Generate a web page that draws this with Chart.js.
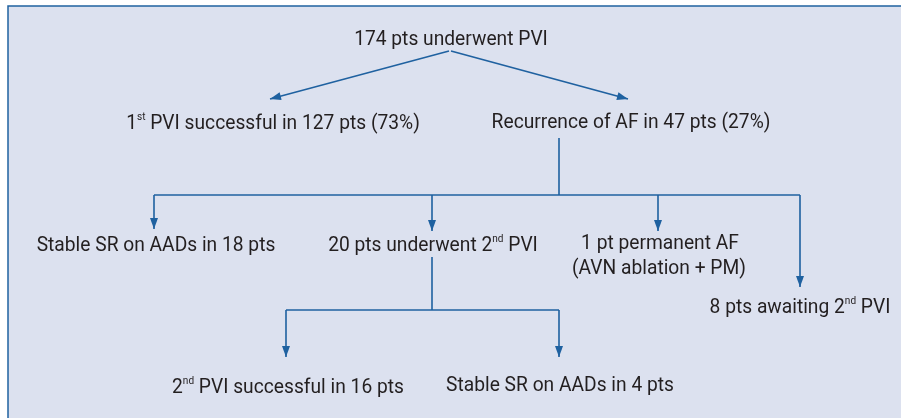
<!DOCTYPE html>
<html>
<head>
<meta charset="utf-8">
<script src="https://cdn.jsdelivr.net/npm/chart.js@4.4.1/dist/chart.umd.min.js"></script>
<style>
  html, body { margin: 0; padding: 0; background: #ffffff; }
  canvas { display: block; }
</style>
</head>
<body>
<canvas id="flowChart" width="901" height="418"></canvas>
<script>
// box texts ("^{..}" = superscript), anchored at text centre / baseline
const nodeLabels = [
    "174 pts underwent PVI",
    "1^{st} PVI successful in 127 pts (73%)",
    "Recurrence of AF in 47 pts (27%)",
    "Stable SR on AADs in 18 pts",
    "20 pts underwent 2^{nd} PVI",
    "1 pt permanent AF",
    "(AVN ablation + PM)",
    "8 pts awaiting 2^{nd} PVI",
    "2^{nd} PVI successful in 16 pts",
    "Stable SR on AADs in 4 pts"
];
const nodeX = [451, 273, 631, 156, 433, 660, 659, 800, 288, 560];
const nodeY = [45, 129, 128, 251, 251, 249, 274, 313, 393, 391];

// connectors from -> to, arrowhead at "to" when linkArrow is true
const linkFromX = [449, 451, 559, 154, 154, 432, 658, 800, 432, 286, 286, 559];
const linkFromY = [51, 51, 138, 195, 195, 195, 195, 195, 257, 310, 310, 310];
const linkToX   = [270, 628, 559, 800, 154, 432, 658, 800, 432, 559, 286, 559];
const linkToY   = [99, 99, 195, 195, 229, 231, 231, 287, 310, 310, 357, 357];
const linkArrow = [true, true, false, false, true, true, true, true, false, false, true, true];

const lineColor = '#1f61a0';
const textColor = '#231f20';
const panelColor = '#dce1ef';
const fontFamily = '"Roboto", "Liberation Sans", sans-serif';
const fontSize = 21;
const squeeze = 0.915; // narrow the face to look like a condensed font

const linkDatasets = linkFromX.map((fx, i) => ({
    data: [{ x: fx, y: linkFromY[i] }, { x: linkToX[i], y: linkToY[i] }],
    showLine: true,
    borderColor: lineColor,
    borderWidth: 1.6,
    pointRadius: 0,
    arrow: linkArrow[i]
}));

// background panel with blue top/left border
const panelPlugin = {
    id: 'panel',
    beforeDatasetsDraw(chart) {
        const { ctx, scales: { x, y } } = chart;
        const left = x.getPixelForValue(8), top = y.getPixelForValue(6);
        const right = x.getPixelForValue(901), bottom = y.getPixelForValue(418);
        ctx.save();
        ctx.fillStyle = panelColor;
        ctx.fillRect(left, top, right - left, bottom - top);
        ctx.strokeStyle = lineColor;
        ctx.lineWidth = 1.5;
        ctx.beginPath();
        ctx.moveTo(left, bottom);
        ctx.lineTo(left, top);
        ctx.lineTo(right, top);
        ctx.stroke();
        ctx.restore();
    }
};

// arrowheads at the end of linked segments
const arrowPlugin = {
    id: 'arrows',
    afterDatasetsDraw(chart) {
        const { ctx } = chart;
        ctx.save();
        ctx.fillStyle = lineColor;
        chart.data.datasets.forEach((ds, i) => {
            if (!ds.arrow) return;
            const pts = chart.getDatasetMeta(i).data;
            const a = pts[0], b = pts[1];
            const ang = Math.atan2(b.y - a.y, b.x - a.x);
            const len = 11, half = 4;
            ctx.save();
            ctx.translate(b.x, b.y);
            ctx.rotate(ang);
            ctx.beginPath();
            ctx.moveTo(0, 0);
            ctx.lineTo(-len, -half);
            ctx.lineTo(-len, half);
            ctx.closePath();
            ctx.fill();
            ctx.restore();
        });
        ctx.restore();
    }
};

function drawRich(ctx, text, cx, baseY) {
    const parts = [];
    const re = /\^\{([^}]*)\}/g;
    let last = 0, m;
    while ((m = re.exec(text))) {
        if (m.index > last) parts.push({ t: text.slice(last, m.index), sup: false });
        parts.push({ t: m[1], sup: true });
        last = re.lastIndex;
    }
    if (last < text.length) parts.push({ t: text.slice(last), sup: false });
    const mainFont = fontSize + 'px ' + fontFamily;
    const supFont = Math.round(fontSize * 0.52) + 'px ' + fontFamily;
    let total = 0;
    parts.forEach(p => {
        ctx.font = p.sup ? supFont : mainFont;
        p.w = ctx.measureText(p.t).width;
        total += p.w;
    });
    ctx.save();
    ctx.translate(cx, baseY);
    ctx.scale(squeeze, 1);
    let xPos = -total / 2;
    parts.forEach(p => {
        ctx.font = p.sup ? supFont : mainFont;
        ctx.fillText(p.t, xPos, p.sup ? -fontSize * 0.42 : 0);
        xPos += p.w;
    });
    ctx.restore();
}

const labelPlugin = {
    id: 'labels',
    afterDatasetsDraw(chart) {
        const { ctx, scales: { x, y } } = chart;
        ctx.save();
        ctx.fillStyle = textColor;
        ctx.textAlign = 'left';
        ctx.textBaseline = 'alphabetic';
        nodeLabels.forEach((lbl, i) => {
            drawRich(ctx, lbl, x.getPixelForValue(nodeX[i]), y.getPixelForValue(nodeY[i]));
        });
        ctx.restore();
    }
};

new Chart(document.getElementById('flowChart'), {
    type: 'scatter',
    data: { datasets: linkDatasets },
    options: {
        responsive: false,
        animation: false,
        layout: { padding: 0 },
        plugins: { legend: { display: false }, tooltip: { enabled: false } },
        scales: {
            x: { type: 'linear', min: 0, max: 901, display: false },
            y: { type: 'linear', min: 0, max: 418, reverse: true, display: false }
        }
    },
    plugins: [panelPlugin, arrowPlugin, labelPlugin]
});
</script>
</body>
</html>
